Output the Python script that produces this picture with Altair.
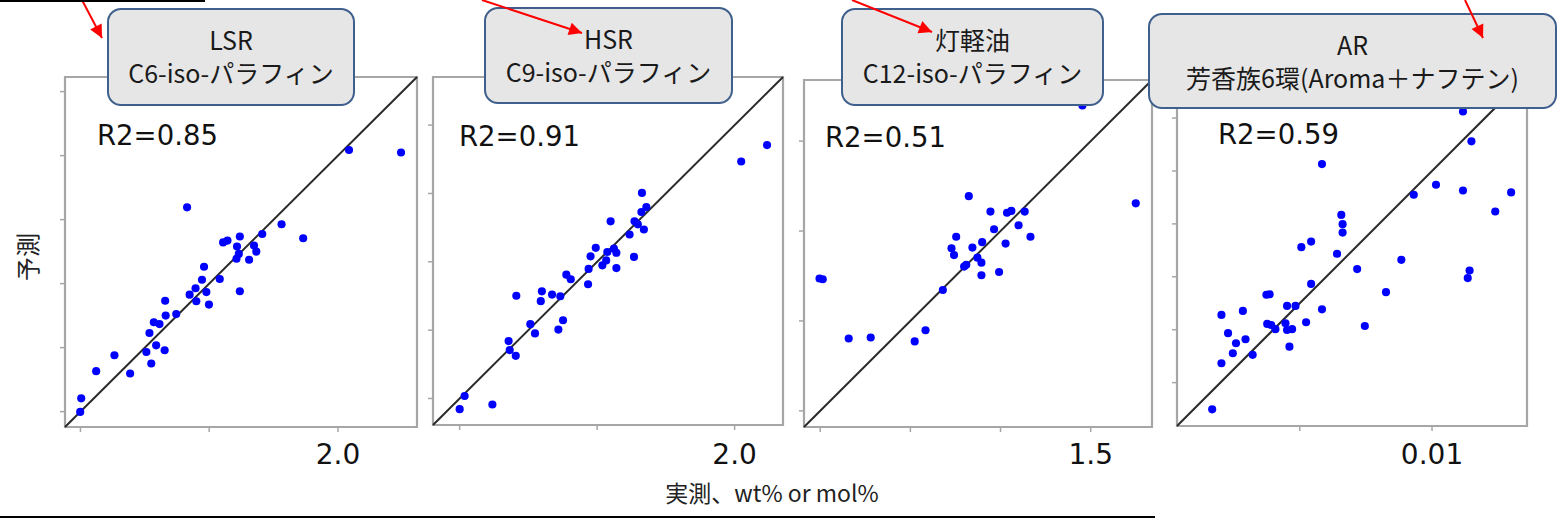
import altair as alt
import pandas as pd

W, H = 1557, 520

# ---------------- data ----------------
lsr_actual = [2.043, 2.245, 1.414, 1.781, 1.865, 1.706, 1.619, 1.554, 1.571, 1.608, 1.674, 1.683, 1.615,
              1.606, 1.655, 1.480, 1.472, 1.541, 1.619, 1.447, 1.424, 1.489, 1.450, 1.499, 1.329, 1.372,
              1.331, 1.285, 1.307, 1.268, 1.294, 1.327, 1.256, 1.132, 1.275, 1.061, 1.193, 1.003, 0.999]
lsr_pred = [2.022, 2.012, 1.798, 1.732, 1.677, 1.694, 1.684, 1.661, 1.668, 1.645, 1.649, 1.625, 1.616,
            1.597, 1.593, 1.566, 1.515, 1.518, 1.470, 1.482, 1.457, 1.467, 1.431, 1.418, 1.433, 1.381,
            1.375, 1.349, 1.342, 1.307, 1.259, 1.240, 1.233, 1.220, 1.188, 1.158, 1.149, 1.052, 0.999]

hsr_actual = [2.118, 2.024, 1.663, 1.679, 1.661, 1.636, 1.549, 1.648, 1.670, 1.618, 1.495, 1.476, 1.537,
              1.570, 1.561, 1.634, 1.533, 1.519, 1.570, 1.469, 1.388, 1.404, 1.467, 1.206, 1.299, 1.295,
              1.336, 1.366, 1.257, 1.274, 1.376, 1.359, 1.178, 1.182, 1.204, 1.018, 1.000, 1.119]
hsr_pred = [1.927, 1.867, 1.752, 1.700, 1.682, 1.648, 1.648, 1.637, 1.618, 1.600, 1.551, 1.520, 1.536,
            1.533, 1.548, 1.518, 1.505, 1.487, 1.477, 1.474, 1.453, 1.436, 1.418, 1.376, 1.392, 1.356,
            1.380, 1.374, 1.272, 1.238, 1.286, 1.252, 1.210, 1.177, 1.156, 1.009, 0.961, 0.978]

ker_actual = [1.477, 1.625, 1.162, 1.222, 1.268, 1.280, 1.317, 1.300, 1.232, 1.333, 1.127, 1.264, 1.199,
              1.172, 1.114, 1.121, 1.186, 1.197, 1.155, 1.149, 1.246, 1.197, 1.090, 0.748, 0.757, 1.042,
              1.012, 0.829, 0.890]
ker_pred = [1.599, 1.327, 1.347, 1.304, 1.301, 1.306, 1.304, 1.266, 1.255, 1.234, 1.234, 1.215, 1.219,
            1.204, 1.202, 1.183, 1.176, 1.162, 1.156, 1.151, 1.136, 1.127, 1.086, 1.118, 1.116, 0.974,
            0.943, 0.951, 0.954]

ar_actual = [0.01117, 0.01149, 0.00584, 0.01015, 0.00931, 0.01117, 0.01299, 0.01239, 0.00657, 0.00662,
             0.00662, 0.00543, 0.00506, 0.00641, 0.00717, 0.00884, 0.01142, 0.01135, 0.00543, 0.00826,
             0.00374, 0.00386, 0.00452, 0.00484, 0.00584, 0.00204, 0.00285, 0.00524, 0.00746, 0.00377,
             0.00392, 0.00408, 0.00446, 0.00452, 0.00471, 0.00229, 0.00295, 0.00259, 0.00247, 0.00322,
             0.00461, 0.00204, 0.00169]
ar_pred = [0.01225, 0.01112, 0.01026, 0.00948, 0.00910, 0.00926, 0.00919, 0.00847, 0.00834, 0.00799,
           0.00767, 0.00733, 0.00712, 0.00687, 0.00629, 0.00664, 0.00624, 0.00595, 0.00573, 0.00542,
           0.00532, 0.00534, 0.00490, 0.00490, 0.00477, 0.00456, 0.00471, 0.00428, 0.00414, 0.00422,
           0.00418, 0.00402, 0.00424, 0.00399, 0.00402, 0.00387, 0.00364, 0.00349, 0.00311, 0.00305,
           0.00336, 0.00273, 0.00099]

titles_top = ["LSR", "HSR", "灯軽油", "AR"]
titles_sub = ["C6-iso-パラフィン", "C9-iso-パラフィン", "C12-iso-パラフィン", "芳香族6環(Aroma＋ナフテン)"]
r2_labels = ["R2=0.85", "R2=0.91", "R2=0.51", "R2=0.59"]
axis_domains = [[0.94, 2.307], [0.903, 2.176], [0.705, 1.67], [0.00036, 0.01359]]
x_ticks = [[1.0, 1.5, 2.0], [1.0, 1.5, 2.0], [0.75, 1.0, 1.25, 1.5], [0.005, 0.01]]
y_ticks = [[1.0, 1.25, 1.5, 1.75, 2.0, 2.25], [1.0, 1.25, 1.5, 1.75, 2.0],
           [0.75, 1.0, 1.25, 1.5], [0.002, 0.004, 0.006, 0.008, 0.01, 0.012]]
x_label_values = [2.0, 2.0, 1.5, 0.01]
x_label_texts = ["2.0", "2.0", "1.5", "0.01"]
y_title = "予測"
x_title = "実測、wt% or mol%"

series = [(lsr_actual, lsr_pred), (hsr_actual, hsr_pred), (ker_actual, ker_pred), (ar_actual, ar_pred)]

# ---------------- layout (pixels) ----------------
panel_xpx = [[65, 417], [433, 783], [804, 1152], [1177, 1527]]
panel_ypx = [[427, 77], [425, 77], [427, 80], [426, 76]]
boxes = [(108, 9, 354, 105), (485, 8, 732, 103), (842, 9, 1103, 105), (1149, 14, 1556, 108)]
r2_pos = [(97, 145), (459, 146), (825, 147), (1218, 144)]
arrows = [((82, 0), (102, 38), 152.2), ((482, 0), (582, 33), 108.3),
          ((852, 0), (932, 32), 111.8), ((1465, 0), (1483, 38), 154.7)]

FRAME = "#a6a6a6"
JP = "Noto Sans CJK JP"
LAT = "DejaVu Sans"
one = pd.DataFrame({"k": [0]})


def panel(i):
    d0, d1 = axis_domains[i]
    xs = alt.Scale(domain=[d0, d1], range=panel_xpx[i], nice=False, zero=False)
    ys = alt.Scale(domain=[d0, d1], range=panel_ypx[i], nice=False, zero=False)

    def X(f):
        return alt.X(f, type="quantitative", scale=xs, axis=None)

    def Y(f):
        return alt.Y(f, type="quantitative", scale=ys, axis=None)

    left = panel_xpx[i][0]
    bottom = panel_ypx[i][0]
    actual, pred = series[i]

    frame = alt.Chart(pd.DataFrame({"a": [d0], "b": [d1]})).mark_rect(
        fillOpacity=0, stroke=FRAME, strokeWidth=2.2
    ).encode(x=X("a"), x2="b", y=Y("a"), y2="b")

    diag = alt.Chart(pd.DataFrame({"v": [d0, d1]})).mark_line(
        color="#2a2a2a", strokeWidth=2
    ).encode(x=X("v"), y=Y("v"))

    pts = alt.Chart(pd.DataFrame({"actual": actual, "pred": pred})).mark_circle(
        size=66, color="#0000ff", opacity=1
    ).encode(x=X("actual"), y=Y("pred"))

    yt = alt.Chart(pd.DataFrame({"t": y_ticks[i]})).mark_rule(
        color=FRAME, strokeWidth=1.5
    ).encode(y=Y("t"), x=alt.value(left - 5), x2=alt.value(left - 1))

    xt = alt.Chart(pd.DataFrame({"t": x_ticks[i]})).mark_rule(
        color=FRAME, strokeWidth=1.5
    ).encode(x=X("t"), y=alt.value(bottom + 1), y2=alt.value(bottom + 5))

    xl = alt.Chart(pd.DataFrame({"t": [x_label_values[i]], "s": [x_label_texts[i]]})).mark_text(
        font=LAT, fontSize=28, align="center", baseline="alphabetic", color="#111111"
    ).encode(x=X("t"), y=alt.value(464), text="s:N")

    r2 = alt.Chart(pd.DataFrame({"s": [r2_labels[i]]})).mark_text(
        font=LAT, fontSize=27.5, align="left", baseline="alphabetic", color="#111111"
    ).encode(x=alt.value(r2_pos[i][0]), y=alt.value(r2_pos[i][1]), text="s:N")

    return alt.layer(frame, diag, pts, yt, xt, xl, r2)


def title_box(i):
    x0, y0, x1, y1 = boxes[i]
    cx = (x0 + x1) / 2
    rect = alt.Chart(one).mark_rect(
        fill="#e6e6e6", stroke="#3f5f8c", strokeWidth=2, cornerRadius=13
    ).encode(x=alt.value(x0), x2=alt.value(x1), y=alt.value(y0), y2=alt.value(y1))
    t1 = alt.Chart(pd.DataFrame({"s": [titles_top[i]]})).mark_text(
        font=JP, fontSize=25, align="center", baseline="middle", color="#1a1a1a"
    ).encode(x=alt.value(cx), y=alt.value(y0 + 33), text="s:N")
    t2 = alt.Chart(pd.DataFrame({"s": [titles_sub[i]]})).mark_text(
        font=JP, fontSize=25, align="center", baseline="middle", color="#1a1a1a"
    ).encode(x=alt.value(cx), y=alt.value(y0 + 66), text="s:N")
    return [rect, t1, t2]


layers = [panel(i) for i in range(4)]
for i in range(4):
    layers += title_box(i)

# arrows
for (sx, sy), (tx, ty), ang in arrows:
    layers.append(alt.Chart(one).mark_rule(color="#ff0000", strokeWidth=2).encode(
        x=alt.value(sx), y=alt.value(sy), x2=alt.value(tx), y2=alt.value(ty)))
    layers.append(alt.Chart(one).mark_point(
        shape="M0,0L-0.55,1.1L0.55,1.1Z", filled=True, color="#ff0000", opacity=1, size=560, angle=ang
    ).encode(x=alt.value(tx), y=alt.value(ty)))

# lines
layers.append(alt.Chart(one).mark_rule(color="#000000", strokeWidth=2).encode(
    x=alt.value(0), x2=alt.value(205), y=alt.value(1)))
layers.append(alt.Chart(one).mark_rule(color="#000000", strokeWidth=2).encode(
    x=alt.value(0), x2=alt.value(1155), y=alt.value(517)))

# axis titles
layers.append(alt.Chart(pd.DataFrame({"s": [y_title]})).mark_text(
    font=JP, fontSize=24, angle=270, align="center", baseline="middle", color="#222222"
).encode(x=alt.value(30), y=alt.value(257), text="s:N"))
layers.append(alt.Chart(pd.DataFrame({"s": [x_title]})).mark_text(
    font=JP, fontSize=23, align="center", baseline="middle", color="#222222"
).encode(x=alt.value(772), y=alt.value(495), text="s:N"))

chart = alt.layer(*layers).resolve_scale(x="independent", y="independent").properties(
    width=W, height=H, autosize="none", padding=0
).configure_view(stroke=None)

chart.save("out.html", embed_options={"renderer": "svg", "actions": False})
